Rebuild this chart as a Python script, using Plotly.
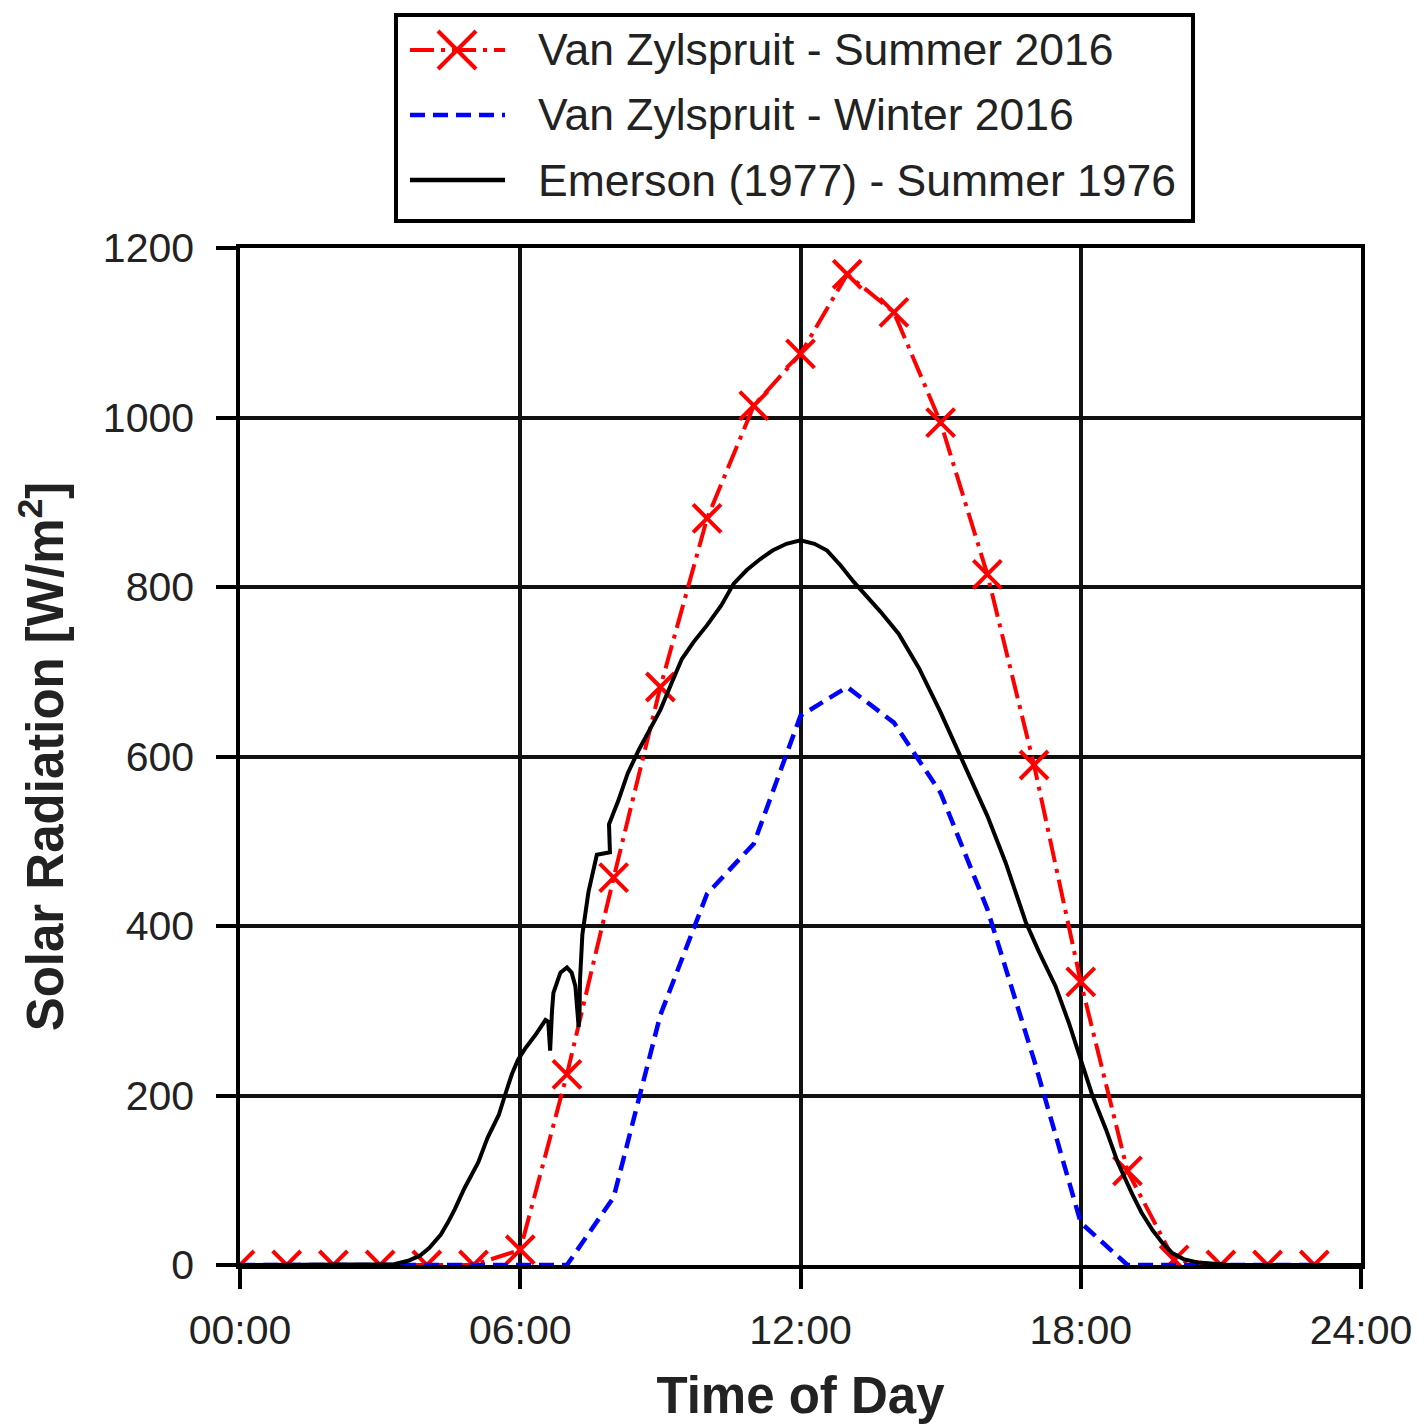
import plotly.graph_objects as go

# ---- data -------------------------------------------------------------
hours = list(range(24))

summer_2016 = [0, 0, 0, 0, 0, 0, 18, 225, 457, 682, 881, 1014,
               1075, 1169, 1124, 994, 815, 590, 334, 111, 6, 0, 0, 0]

winter_2016 = [0, 0, 0, 0, 0, 0, 0, 0, 80, 295, 438, 497,
               648, 682, 640, 557, 420, 242, 50, 0, 0, 0, 0, 0]

emerson_hours = [0.0, 3.0, 3.3, 3.6, 3.85, 4.05, 4.3, 4.45, 4.6, 4.8, 5.1,
                 5.3, 5.54, 5.7, 5.82, 5.95, 6.1, 6.32, 6.54, 6.6, 6.64,
                 6.68, 6.71, 6.86, 7.0, 7.1, 7.18, 7.25, 7.27, 7.28, 7.33,
                 7.46, 7.64, 7.92, 7.9, 8.1, 8.3, 8.54, 8.71, 9.0, 9.25,
                 9.46, 9.71, 10.0, 10.3, 10.57, 10.85, 11.14, 11.4, 11.7,
                 12.0, 12.3, 12.57, 12.85, 13.14, 13.4, 13.71, 14.1, 14.54,
                 15.0, 15.46, 16.0, 16.39, 16.82, 17.1, 17.46, 17.75, 18.0,
                 18.25, 18.54, 18.8, 19.1, 19.3, 19.54, 19.75, 19.96, 20.2,
                 20.5, 21.2, 24.0]
emerson_1976 = [0, 0, 1, 5, 11, 20, 36, 50, 66, 90, 121,
                150, 177, 205, 225, 242, 255, 271, 289, 287, 253,
                300, 321, 345, 351, 345, 329, 281, 300, 337, 390,
                440, 484, 487, 520, 548, 580, 608, 625, 655, 688,
                715, 735, 755, 778, 804, 820, 833, 843, 851,
                855, 851, 843, 826, 806, 790, 771, 745, 704,
                652, 595, 530, 475, 405, 370, 329, 285, 242,
                200, 160, 120, 84, 62, 41, 26, 14, 7,
                3, 0, 0]

x_tickvals = [0, 6, 12, 18, 24]
x_ticktext = ["00:00", "06:00", "12:00", "18:00", "24:00"]
y_tickvals = [0, 200, 400, 600, 800, 1000, 1200]

legend_labels = ["Van Zylspruit - Summer 2016",
                 "Van Zylspruit - Winter 2016",
                 "Emerson (1977) - Summer 1976"]

# ---- styles -------------------------------------------------------------
FONT = "Liberation Sans, Arial, sans-serif"
TEXT = "#222222"
RED = "#ff0000"
BLUE = "#0000ff"
RED_DASH = "24px,7px,4px,7px"
BLUE_DASH = "15px,8px"

W, H = 1426, 1427
L, R, T, B = 240, 65, 248, 162

fig = go.Figure()

fig.add_trace(go.Scatter(
    x=hours, y=summer_2016, mode="lines+markers",
    line=dict(color=RED, width=4, dash=RED_DASH),
    marker=dict(symbol="x-thin-open", size=28, color=RED,
                line=dict(color=RED, width=4)),
    showlegend=False))

fig.add_trace(go.Scatter(
    x=hours, y=winter_2016, mode="lines",
    line=dict(color=BLUE, width=4.5, dash=BLUE_DASH),
    showlegend=False))

fig.add_trace(go.Scatter(
    x=emerson_hours, y=emerson_1976, mode="lines",
    line=dict(color="black", width=4),
    showlegend=False))

axis_common = dict(
    showline=True, linecolor="black", linewidth=3.5, mirror=True,
    showgrid=True, gridcolor="#111111", gridwidth=3.5,
    ticks="outside", ticklen=20, tickwidth=3.5, tickcolor="black",
    tickfont=dict(family=FONT, size=41, color=TEXT),
    zeroline=False, layer="below traces",
)

fig.update_xaxes(
    range=[0, 24], tickmode="array", tickvals=x_tickvals, ticktext=x_ticktext,
    ticklabelstandoff=6,
    title=dict(text="Time of Day", standoff=26,
               font=dict(family=FONT, size=51, color=TEXT, weight="bold")),
    **axis_common)

fig.update_yaxes(
    range=[0, 1200], tickmode="array", tickvals=y_tickvals,
    ticklabelstandoff=14,
    title=dict(text="Solar Radiation [W/m<sup>2</sup>]", standoff=24,
               font=dict(family=FONT, size=51, color=TEXT, weight="bold")),
    **axis_common)

# ---- legend box drawn in paper space ---------------------------------------
pw, ph = W - L - R, H - T - B


def fx(px):
    return (px - L) / pw


def fy(py):
    return (H - B - py) / ph


shapes = [dict(type="rect", xref="paper", yref="paper",
               x0=fx(396), x1=fx(1193), y0=fy(221), y1=fy(15),
               line=dict(color="black", width=4), fillcolor="white", layer="above")]

rows_y = [50, 115, 180]
samples = [(RED, RED_DASH, 4), (BLUE, BLUE_DASH, 4.5), ("black", "solid", 4.5)]
for (col, dash, wd), ry in zip(samples, rows_y):
    shapes.append(dict(type="line", xref="paper", yref="paper",
                       x0=fx(410), x1=fx(505), y0=fy(ry), y1=fy(ry),
                       line=dict(color=col, width=wd, dash=dash)))

# cross symbol on the red legend sample
cx, cy, hs = 457, rows_y[0], 19
for dx0, dy0, dx1, dy1 in [(-hs, -hs, hs, hs), (-hs, hs, hs, -hs)]:
    shapes.append(dict(type="line", xref="paper", yref="paper",
                       x0=fx(cx + dx0), y0=fy(cy + dy0),
                       x1=fx(cx + dx1), y1=fy(cy + dy1),
                       line=dict(color=RED, width=4)))

annotations = [dict(xref="paper", yref="paper", x=fx(536), y=fy(ry),
                    xanchor="left", yanchor="middle", showarrow=False,
                    text=lab, font=dict(family=FONT, size=44.5, color=TEXT))
               for lab, ry in zip(legend_labels, rows_y)]

fig.update_layout(
    width=W, height=H,
    margin=dict(l=L, r=R, t=T, b=B),
    paper_bgcolor="white", plot_bgcolor="white",
    shapes=shapes, annotations=annotations,
    showlegend=False,
)

fig.write_html("out.html")
